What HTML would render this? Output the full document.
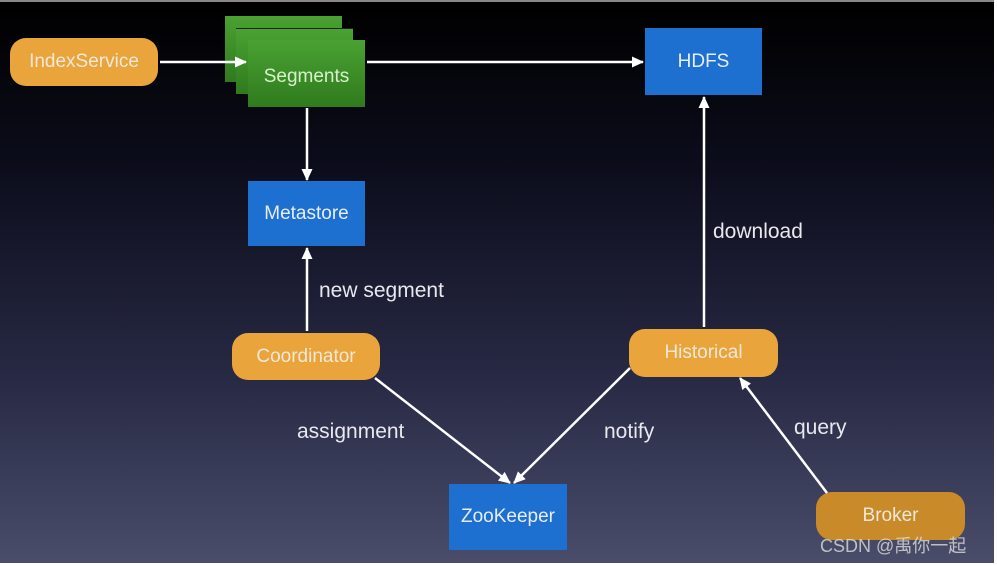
<!DOCTYPE html>
<html><head><meta charset="utf-8"><style>
body{margin:0;width:997px;height:566px;background:#fff;overflow:hidden;font-family:"Liberation Sans",sans-serif}
#bg{position:absolute;left:0;top:0;width:994px;height:561px;background:linear-gradient(#000 0%,#0c0d1c 30%,#2a2c48 70%,#4a4d6a 100%);border-top:2px solid #888}
.n{position:absolute;display:flex;align-items:center;justify-content:center;color:#f0e8d8;font-size:19px;box-sizing:border-box}
.o{background:#eaa43c;border-radius:16px}
.b{background:#1d6fd0;color:#e8eef8}
.g{background:linear-gradient(#4aa232,#2f7a1e);color:#d8f0cc}
.l{position:absolute;color:#e8e8ee;font-size:21px}
</style></head><body>
<div id="bg"></div>
<div class="n g" style="left:225px;top:16px;width:117px;height:66px"></div>
<div class="n g" style="left:236px;top:28px;width:117px;height:66px;border-top:1px solid #222"></div>
<div class="n g" style="left:248px;top:40px;width:117px;height:67px;padding-top:6px">Segments</div>
<div class="n o" style="left:10px;top:38px;width:148px;height:48px">IndexService</div>
<div class="n b" style="left:645px;top:28px;width:117px;height:67px">HDFS</div>
<div class="n b" style="left:248px;top:181px;width:117px;height:65px">Metastore</div>
<div class="n o" style="left:232px;top:333px;width:148px;height:47px">Coordinator</div>
<div class="n o" style="left:629px;top:329px;width:149px;height:48px">Historical</div>
<div class="n b" style="left:449px;top:484px;width:118px;height:66px">ZooKeeper</div>
<div class="n o" style="left:816px;top:492px;width:149px;height:48px;background:#c98a2a">Broker</div>
<svg style="position:absolute;left:0;top:0" width="997" height="566">
<defs><marker id="a" markerWidth="12" markerHeight="12" refX="11" refY="5.5" orient="auto" markerUnits="userSpaceOnUse"><path d="M0,0L12,5.5L0,11z" fill="#fff"/></marker></defs>
<g stroke="#fff" stroke-width="2.5" marker-end="url(#a)">
<line x1="160" y1="62" x2="246" y2="62"/>
<line x1="367" y1="62" x2="643" y2="62"/>
<line x1="307" y1="108" x2="307" y2="180"/>
<line x1="307" y1="331" x2="307" y2="248"/>
<line x1="704" y1="327" x2="704" y2="97"/>
<line x1="375" y1="378" x2="510" y2="483"/>
<line x1="630" y1="368" x2="514" y2="483"/>
<line x1="827" y1="493" x2="740" y2="378"/>
</g></svg>
<div class="l" style="left:319px;top:279px">new segment</div>
<div class="l" style="left:713px;top:220px">download</div>
<div class="l" style="left:297px;top:420px">assignment</div>
<div class="l" style="left:604px;top:420px">notify</div>
<div class="l" style="left:794px;top:416px">query</div>
<div style="position:absolute;left:820px;top:532px;color:rgba(230,230,230,.75);font-size:18px;font-family:'Liberation Sans','Noto Sans CJK SC',sans-serif">CSDN @禹你一起</div>
</body></html>
